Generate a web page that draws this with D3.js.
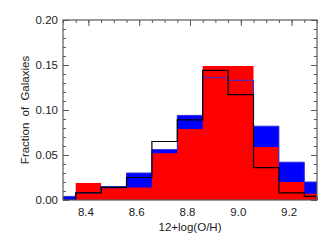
<!DOCTYPE html>
<html>
<head>
<meta charset="utf-8">
<script src="https://cdn.jsdelivr.net/npm/d3@7"></script>
<style>
  body { margin: 0; background: #fff; }
  text { font-family: "Liberation Sans", Arial, sans-serif; fill: #222; }
</style>
</head>
<body>
<div id="vizcontainer"></div>
<script>
const width = 336,
  height = 240;

// bin centres, width 0.1
const bins = [8.3, 8.4, 8.5, 8.6, 8.7, 8.8, 8.9, 9.0, 9.1, 9.2, 9.3];
const blueVals = [0.004, 0.008, 0.015, 0.030, 0.056, 0.094, 0.136, 0.133, 0.082, 0.042, 0.020];
const redVals = [0.000, 0.019, 0.013, 0.014, 0.052, 0.079, 0.149, 0.149, 0.059, 0.020, 0.007];
const blackVals = [0.000, 0.008, 0.014, 0.025, 0.065, 0.089, 0.144, 0.117, 0.036, 0.008, 0.004];

const xMajor = [8.4, 8.6, 8.8, 9.0, 9.2];
const xMinor = d3.range(8.3, 9.3001, 0.05);
const yMajor = [0.00, 0.05, 0.10, 0.15, 0.20];
const yMinor = d3.range(0, 0.2001, 0.01);

const margin = { top: 20, right: 19, bottom: 40, left: 63 };
const binW = 0.1;

const x = d3.scaleLinear().domain([8.3, 9.3]).range([margin.left, width - margin.right]);
const y = d3.scaleLinear().domain([0, 0.2]).range([height - margin.bottom, margin.top]);

let viz = d3.select('#vizcontainer')
  .append('svg')
  .attr('width', width)
  .attr('height', height);

viz.append('clipPath').attr('id', 'plotclip')
  .append('rect')
  .attr('x', x(8.3)).attr('y', y(0.2))
  .attr('width', x(9.3) - x(8.3)).attr('height', y(0) - y(0.2));

// step points: left edge of each bin, plus right edge of last
function steps(vals) {
  let pts = bins.map((b, i) => [b - binW / 2, vals[i]]);
  pts.push([bins[bins.length - 1] + binW / 2, vals[vals.length - 1]]);
  return pts;
}

const area = d3.area()
  .x(d => x(d[0]))
  .y0(y(0))
  .y1(d => y(d[1]))
  .curve(d3.curveStepAfter);

const line = d3.line()
  .x(d => x(d[0]))
  .y(d => y(d[1]))
  .curve(d3.curveStepAfter);

const axisCol = '#5a5a5a';

function styleAxis(g) {
  g.select('.domain').remove();
  g.selectAll('.tick line').attr('stroke', axisCol);
  g.selectAll('.tick text').attr('fill', '#222').style('font-size', '11.5px');
}

// ticks (inward)
viz.append('g').attr('transform', `translate(${margin.left},0)`)
  .call(d3.axisLeft(y).tickValues(yMinor).tickSize(-3).tickFormat(''))
  .call(styleAxis);
viz.append('g').attr('transform', `translate(${margin.left},0)`)
  .call(d3.axisLeft(y).tickValues(yMajor).tickSize(-6).tickPadding(5).tickFormat(d3.format('.2f')))
  .call(styleAxis);
viz.append('g').attr('transform', `translate(${width - margin.right},0)`)
  .call(d3.axisRight(y).tickValues(yMinor).tickSize(-3).tickFormat(''))
  .call(styleAxis);
viz.append('g').attr('transform', `translate(${width - margin.right},0)`)
  .call(d3.axisRight(y).tickValues(yMajor).tickSize(-6).tickFormat(''))
  .call(styleAxis);
viz.append('g').attr('transform', `translate(0,${margin.top})`)
  .call(d3.axisTop(x).tickValues(xMinor).tickSize(-3).tickFormat(''))
  .call(styleAxis);
viz.append('g').attr('transform', `translate(0,${margin.top})`)
  .call(d3.axisTop(x).tickValues(xMajor).tickSize(-6).tickFormat(''))
  .call(styleAxis);
viz.append('g').attr('transform', `translate(0,${height - margin.bottom})`)
  .call(d3.axisBottom(x).tickValues(xMinor).tickSize(-3).tickFormat(''))
  .call(styleAxis);
viz.append('g').attr('transform', `translate(-3,${height - margin.bottom})`)
  .call(d3.axisBottom(x).tickValues(xMajor).tickSize(-6).tickPadding(8).tickFormat(d3.format('.1f')))
  .call(styleAxis)
  .selectAll('.tick line').attr('transform', 'translate(3,0)');

const plot = viz.append('g').attr('clip-path', 'url(#plotclip)');

plot.append('path')
  .attr('d', area(steps(blueVals)))
  .attr('fill', '#0000ff');

plot.append('path')
  .attr('d', area(steps(redVals)))
  .attr('fill', '#ff0000');

plot.append('path')
  .attr('d', line(steps(blueVals)))
  .attr('fill', 'none')
  .attr('stroke', '#3030dd')
  .attr('stroke-width', 1);

plot.append('path')
  .attr('d', line(steps(blackVals)))
  .attr('fill', 'none')
  .attr('stroke', '#000')
  .attr('stroke-width', 1.2);

// frame
viz.append('rect')
  .attr('x', x(8.3)).attr('y', y(0.2))
  .attr('width', x(9.3) - x(8.3)).attr('height', y(0) - y(0.2))
  .attr('fill', 'none')
  .attr('stroke', axisCol)
  .attr('stroke-width', 1.2);

viz.append('text')
  .attr('x', (x(8.3) + x(9.3)) / 2)
  .attr('y', 231)
  .attr('text-anchor', 'middle')
  .style('font-size', '11.5px')
  .text('12+log(O/H)');

viz.append('text')
  .attr('transform', `translate(29,${(y(0) + y(0.2)) / 2}) rotate(-90)`)
  .attr('text-anchor', 'middle')
  .style('font-size', '11.5px')
  .style('word-spacing', '3px')
  .text('Fraction of Galaxies');
</script>
</body>
</html>
